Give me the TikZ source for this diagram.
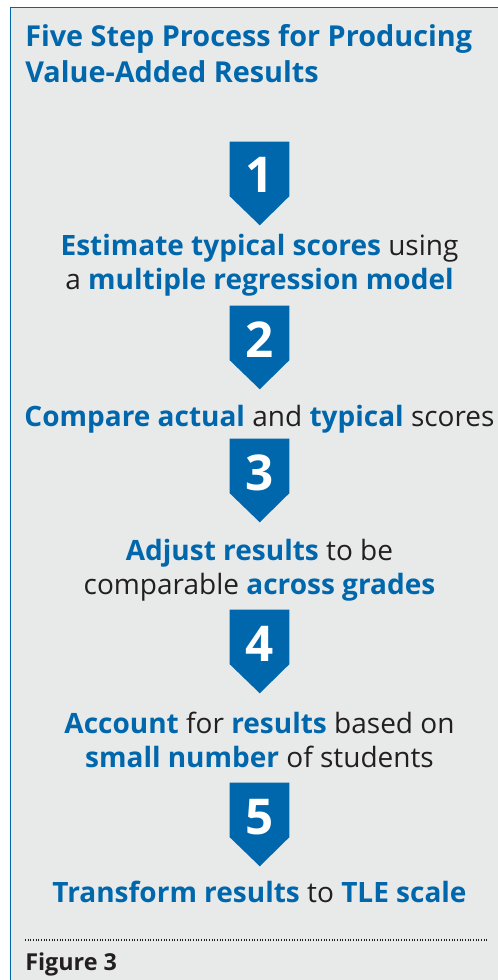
\documentclass[tikz,border=0pt]{standalone}
\usepackage{fontspec}
\setmainfont{Open Sans}
\usetikzlibrary{positioning,backgrounds}

\definecolor{vablue}{RGB}{0,103,172}
\definecolor{vatext}{RGB}{35,31,32}
\definecolor{vapanel}{RGB}{232,234,234}

\newcommand{\hl}[1]{\textcolor{vablue}{\bfseries #1}}
% blue badge with a pointed bottom, drawn behind the number node
\newcommand{\badgetip}[1]{%
  \begin{pgfonlayer}{background}
    \fill [vablue] (#1.north west) -- (#1.north east) -- (#1.south east)
      -- ++(-29.5,29) -- (#1.south west) -- cycle;
  \end{pgfonlayer}}

\tikzset{
  stepbox/.style={rectangle, text=white, inner sep=0pt,
    minimum width=44.25pt, minimum height=40.5pt,
    text height=36pt, text depth=0pt,
    font=\fontsize{37}{37}\selectfont\bfseries},
  steptext/.style={anchor=base, align=center, inner sep=0pt, text=vatext,
    font=\fontsize{21}{25.5}\selectfont},
}

\begin{document}
\begin{tikzpicture}[x=0.75pt,y=0.75pt,yscale=-1,xscale=1]
    \useasboundingbox (0,0) rectangle (497,980);
    % panel
    \begin{pgfonlayer}{background}
      \draw [vablue, line width=1.1pt, fill=vapanel] (10.5,7.5) rectangle (510,995);
    \end{pgfonlayer}

    \node [anchor=base west, align=left, inner sep=0pt, text=vablue, font=\fontsize{21.6}{27}\selectfont\bfseries] (title) at (25,83) {Five Step Process for Producing\\Value-Added Results};

    % steps
    \node [stepbox] (s1) at (259.5,169) {1};
    \badgetip{s1}
    \node [steptext] (t1) at (259.5,290) {\hl{Estimate typical scores} using\\a \hl{multiple regression model}};
    \node [stepbox] (s2) at (259.5,333) {2};
    \badgetip{s2}
    \node [steptext] (t2) at (259.5,426) {\hl{Compare actual} and \hl{typical} scores};
    \node [stepbox] (s3) at (259.5,466) {3};
    \badgetip{s3}
    \node [steptext] (t3) at (259.5,594) {\hl{Adjust results} to be\\comparable \hl{across grades}};
    \node [stepbox] (s4) at (259.5,637) {4};
    \badgetip{s4}
    \node [steptext] (t4) at (259.5,767) {\hl{Account} for \hl{results} based on\\\hl{small number} of students};
    \node [stepbox] (s5) at (259.5,810) {5};
    \badgetip{s5}
    \node [steptext] (t5) at (259.5,902) {\hl{Transform results} to \hl{TLE scale}};

    % footer
    \coordinate (rulel) at (25,940);
    \coordinate (ruler) at (487,940);
    \draw [vatext, line width=0.8pt, dash pattern=on 0.8pt off 1.2pt] (rulel) -- (ruler);
    \node [anchor=base west, inner sep=0pt, text=vatext, font=\fontsize{17.5}{20}\selectfont\bfseries] (fig) at (25,970) {Figure 3};
\end{tikzpicture}
\end{document}
